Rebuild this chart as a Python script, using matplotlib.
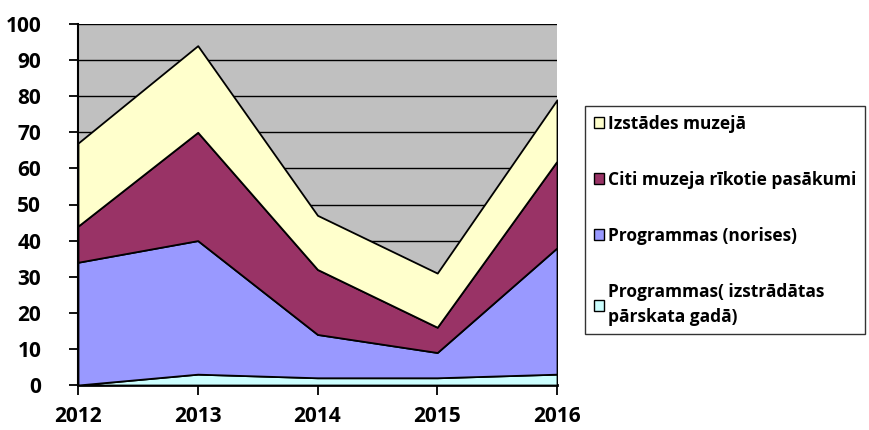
import matplotlib
matplotlib.use("Agg")
import matplotlib.pyplot as plt
from matplotlib.patches import Patch

# data
years = ["2012", "2013", "2014", "2015", "2016"]
izstrad = [0, 3, 2, 2, 3]        # Programmas( izstrādātas pārskata gadā)
norises = [34, 37, 12, 7, 35]    # Programmas (norises)
citi = [10, 30, 18, 7, 24]       # Citi muzeja rīkotie pasākumi
izstades = [23, 24, 15, 15, 17]  # Izstādes muzejā

labels = ["Programmas( izstrādātas\npārskata gadā)", "Programmas (norises)",
          "Citi muzeja rīkotie pasākumi", "Izstādes muzejā"]
colors = ["#CCFFFF", "#9999FF", "#993366", "#FFFFCC"]

plt.rcParams['font.family'] = ['Open Sans', 'DejaVu Sans']
plt.rcParams['font.weight'] = 'bold'

fig = plt.figure(figsize=(8.69, 4.30), dpi=100)
ax = fig.add_axes([78 / 869, 45 / 430, 479 / 869, 361 / 430])
ax.set_facecolor("#C0C0C0")

x = list(range(len(years)))
ax.stackplot(x, izstrad, norises, citi, izstades, colors=colors,
             edgecolor="black", linewidth=1.3, zorder=3)

ax.set_xlim(0, len(years) - 1)
ax.set_ylim(0, 100)
ax.set_yticks(range(0, 101, 10))
ax.set_xticks(x)
ax.set_xticklabels(years)
ax.yaxis.grid(True, color="black", linewidth=1)
ax.set_axisbelow(True)
ax.tick_params(axis="both", labelsize=15, width=1.3, direction="out")
ax.tick_params(axis="y", length=6.5, pad=20)
ax.tick_params(axis="x", length=7, pad=8)
for lab in ax.get_xticklabels() + ax.get_yticklabels():
    lab.set_fontweight("bold")

for side in ["top", "right"]:
    ax.spines[side].set_visible(False)
ax.spines["left"].set_linewidth(1.5)
ax.spines["bottom"].set_linewidth(2)

handles = [Patch(facecolor=c, edgecolor="black", linewidth=1) for c in colors]
leg = fig.legend(handles[::-1], labels[::-1], loc="upper left",
                 bbox_to_anchor=(585 / 869, 1 - 106 / 430),
                 frameon=True, fancybox=False, edgecolor="black",
                 prop={"size": 12.5, "weight": "bold"},
                 handlelength=0.6, handleheight=0.6, handletextpad=0.2,
                 labelspacing=2.2, borderpad=0.5, borderaxespad=0)
leg.get_frame().set_linewidth(1)
leg.get_texts()[-1].set_linespacing(1.45)

fig.savefig("out.png", dpi=100)
